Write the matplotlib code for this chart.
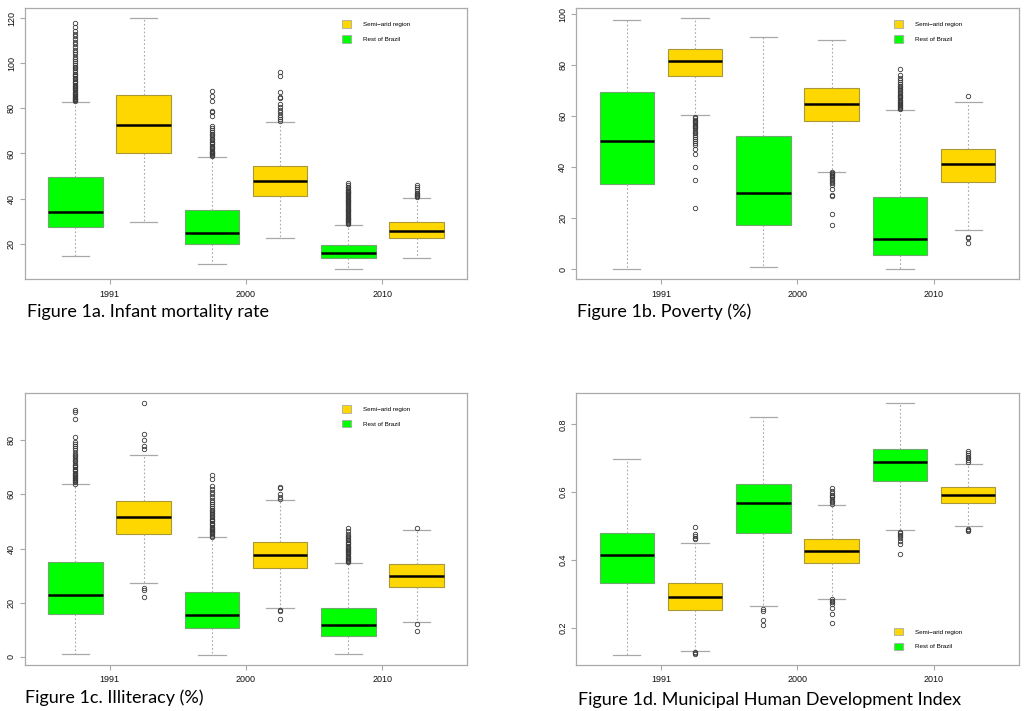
import matplotlib
matplotlib.use("Agg")
import matplotlib.pyplot as plt
from matplotlib.patches import Patch

# ---------------- data ----------------
years = ["1991", "2000", "2010"]
groups = ["Rest of Brazil", "Semi\u2212arid region"]  # box order per year: green, yellow
legend_labels = ["Semi\u2212arid region", "Rest of Brazil"]

# Panel a: Infant mortality rate  (order: green91, yellow91, green00, yellow00, green10, yellow10)
imr_whislo = [14.7, 29.7, 10.9, 22.7, 8.6, 13.5]
imr_q1 = [27.4, 60.4, 19.7, 41.2, 13.4, 22.5]
imr_med = [34.0, 72.7, 24.7, 47.9, 15.6, 25.5]
imr_q3 = [49.6, 85.9, 35.0, 54.5, 19.4, 29.4]
imr_whishi = [82.8, 120.0, 58.5, 73.8, 28.4, 40.1]
imr_fliers = [
    [83.2, 83.6, 84.0, 84.4, 84.8, 85.2, 85.6, 86.0, 86.5, 87.0, 87.5, 88.0, 88.5, 89.0,
     89.5, 90.0, 90.6, 91.2, 91.8, 92.4, 93.0, 93.6, 94.2, 94.8, 95.5, 96.2, 97.0, 97.8,
     98.6, 99.4, 100.3, 101.2, 102.0, 103.0, 104.0, 105.0, 106.0, 107.2, 108.5, 109.6,
     110.8, 112.0, 113.0, 114.5, 116.0, 117.8],
    [],
    [58.8, 59.2, 59.6, 60.0, 60.4, 60.8, 61.3, 61.8, 62.3, 62.8, 63.4, 64.0, 64.6, 65.2,
     65.9, 66.6, 67.3, 68.0, 68.8, 69.6, 70.5, 71.4, 72.4, 76.5, 78.6, 79.0, 83.3, 85.5, 87.6],
    [74.5, 75.2, 76.0, 77.0, 78.2, 79.5, 80.5, 82.0, 84.5, 85.2, 87.5, 94.3, 96.3],
    [28.7, 29.1, 29.5, 29.9, 30.3, 30.7, 31.1, 31.5, 31.9, 32.3, 32.7, 33.1, 33.5, 33.9,
     34.3, 34.7, 35.1, 35.5, 35.9, 36.3, 36.7, 37.1, 37.5, 37.9, 38.3, 38.7, 39.1, 39.5,
     39.9, 40.3, 40.7, 41.1, 41.5, 41.9, 42.3, 42.7, 43.1, 43.5, 44.0, 44.5, 45.2, 46.0, 47.0],
    [40.5, 41.0, 41.5, 42.0, 42.6, 43.3, 44.2, 45.0, 46.0],
]
imr_yticks = [20, 40, 60, 80, 100, 120]

# Panel b: Poverty (%)
pov_whislo = [0.0, 60.4, 0.8, 38.3, 0.0, 15.5]
pov_q1 = [33.6, 75.6, 17.5, 58.0, 5.7, 34.4]
pov_med = [50.2, 81.5, 30.0, 64.8, 12.0, 41.1]
pov_q3 = [69.5, 86.3, 52.3, 70.9, 28.4, 47.3]
pov_whishi = [97.8, 98.4, 90.9, 90.1, 62.5, 65.4]
pov_fliers = [
    [],
    [59.7, 59.2, 58.7, 58.2, 57.7, 57.2, 56.7, 56.2, 55.7, 55.2, 54.6, 54.0, 53.4, 52.8,
     52.0, 51.2, 50.4, 49.5, 48.6, 47.0, 45.2, 40.0, 35.2, 24.0],
    [],
    [38.0, 37.6, 37.2, 36.8, 36.4, 36.0, 35.5, 35.0, 34.4, 33.8, 33.0, 31.5, 29.2, 28.6,
     21.6, 17.3],
    [62.8, 63.2, 63.6, 64.0, 64.4, 64.8, 65.2, 65.6, 66.0, 66.5, 67.0, 67.5, 68.0, 68.5,
     69.0, 69.6, 70.2, 70.8, 71.4, 72.0, 72.7, 73.4, 74.2, 75.0, 76.0, 78.5],
    [67.9, 12.8, 12.1, 10.2],
]
pov_yticks = [0, 20, 40, 60, 80, 100]

# Panel c: Illiteracy (%)
ill_whislo = [1.2, 27.3, 0.7, 18.2, 1.0, 12.8]
ill_q1 = [15.7, 45.3, 10.6, 32.7, 7.6, 25.7]
ill_med = [22.7, 51.6, 15.5, 37.5, 11.6, 29.9]
ill_q3 = [34.9, 57.5, 24.0, 42.5, 18.2, 34.3]
ill_whishi = [63.7, 74.7, 44.1, 57.8, 34.7, 46.9]
ill_fliers = [
    [64.0, 64.4, 64.8, 65.2, 65.6, 66.0, 66.4, 66.8, 67.2, 67.6, 68.0, 68.5, 69.0, 69.5,
     70.0, 70.5, 71.0, 71.6, 72.2, 72.8, 73.4, 74.0, 74.7, 75.4, 76.2, 77.0, 77.8, 78.6,
     79.4, 81.0, 87.8, 90.3, 91.0],
    [76.6, 77.8, 79.9, 82.4, 93.6, 25.6, 24.8, 22.2],
    [44.4, 44.8, 45.2, 45.6, 46.0, 46.4, 46.8, 47.2, 47.6, 48.0, 48.5, 49.0, 49.5, 50.0,
     50.5, 51.0, 51.5, 52.0, 52.6, 53.2, 53.8, 54.4, 55.0, 55.7, 56.4, 57.2, 58.0, 59.0,
     60.0, 61.0, 62.0, 63.0, 65.6, 67.0],
    [58.3, 59.0, 60.0, 62.3, 62.8, 17.4, 16.8, 13.8],
    [35.0, 35.4, 35.8, 36.2, 36.6, 37.0, 37.4, 37.8, 38.2, 38.6, 39.0, 39.4, 39.8, 40.2,
     40.6, 41.0, 41.5, 42.0, 42.5, 43.0, 43.6, 44.2, 44.8, 45.5, 46.5, 47.6],
    [47.4, 12.3, 9.5],
]
ill_yticks = [0, 20, 40, 60, 80]

# Panel d: Municipal Human Development Index
hdi_whislo = [0.119, 0.132, 0.263, 0.284, 0.488, 0.499]
hdi_q1 = [0.332, 0.251, 0.480, 0.390, 0.632, 0.567]
hdi_med = [0.414, 0.290, 0.567, 0.425, 0.689, 0.591]
hdi_q3 = [0.479, 0.330, 0.624, 0.460, 0.727, 0.614]
hdi_whishi = [0.698, 0.449, 0.821, 0.561, 0.862, 0.683]
hdi_fliers = [
    [],
    [0.498, 0.475, 0.470, 0.465, 0.460, 0.128, 0.124, 0.121],
    [0.255, 0.248, 0.222, 0.208],
    [0.566, 0.570, 0.575, 0.580, 0.584, 0.588, 0.592, 0.597, 0.603, 0.612,
     0.283, 0.279, 0.275, 0.270, 0.257, 0.240, 0.214],
    [0.482, 0.478, 0.474, 0.470, 0.465, 0.455, 0.448, 0.417],
    [0.690, 0.695, 0.700, 0.705, 0.710, 0.715, 0.720, 0.492, 0.487, 0.484],
]
hdi_yticks = [0.2, 0.4, 0.6, 0.8]

captions = [
    "Figure 1a. Infant mortality rate",
    "Figure 1b. Poverty (%)",
    "Figure 1c. Illiteracy (%)",
    "Figure 1d. Municipal Human Development Index",
]

# ---------------- style ----------------
GREEN = "#00FF00"
YELLOW = "#FFD700"
GRAY = "#a8a8a8"
TICKFONT = "Liberation Sans"

fig = plt.figure(figsize=(10.24, 7.11), dpi=100)

panels = [
    dict(rect=[25 / 1024, 1 - 279.3 / 711, 442 / 1024, 271 / 711],
         s=(imr_whislo, imr_q1, imr_med, imr_q3, imr_whishi, imr_fliers),
         yticks=imr_yticks, leg=(0.717, 0.955), cap=(26.7, 317)),
    dict(rect=[576.3 / 1024, 1 - 279.3 / 711, 442.4 / 1024, 271 / 711],
         s=(pov_whislo, pov_q1, pov_med, pov_q3, pov_whishi, pov_fliers),
         yticks=pov_yticks, leg=(0.717, 0.955), cap=(577, 317)),
    dict(rect=[25 / 1024, 1 - 665 / 711, 442 / 1024, 271.7 / 711],
         s=(ill_whislo, ill_q1, ill_med, ill_q3, ill_whishi, ill_fliers),
         yticks=ill_yticks, leg=(0.717, 0.957), cap=(25, 702.7)),
    dict(rect=[576.3 / 1024, 1 - 665 / 711, 442.4 / 1024, 271.7 / 711],
         s=(hdi_whislo, hdi_q1, hdi_med, hdi_q3, hdi_whishi, hdi_fliers),
         yticks=hdi_yticks, leg=(0.717, 0.137), cap=(577.7, 705)),
]

positions = [1, 2, 3, 4, 5, 6]
colors = [GREEN, YELLOW] * 3

for i, p in enumerate(panels):
    ax = fig.add_axes(p["rect"])
    wlo, q1, med, q3, whi, fl = p["s"]
    stats = []
    for k in range(6):
        stats.append(dict(whislo=wlo[k], q1=q1[k], med=med[k], q3=q3[k],
                          whishi=whi[k], fliers=fl[k]))
    bp = ax.bxp(stats, positions=positions, widths=0.8, patch_artist=True,
                showfliers=True,
                boxprops=dict(edgecolor="#8a8a8a", linewidth=0.8),
                medianprops=dict(color="black", linewidth=1.8, solid_capstyle="butt"),
                whiskerprops=dict(color=GRAY, linewidth=0.8, linestyle=(0, (1.5, 2))),
                capprops=dict(color=GRAY, linewidth=0.9),
                capwidths=0.4,
                flierprops=dict(marker="o", markersize=3.2, markerfacecolor="none",
                                markeredgecolor="#3a3a3a", markeredgewidth=0.6,
                                linestyle="none"))
    for patch, c in zip(bp["boxes"], colors):
        patch.set_facecolor(c)
        patch.set_edgecolor("#a8983a" if c == YELLOW else "#70a870")

    # R-like 4% axis extension
    all_vals = wlo + whi + [v for f in fl for v in f]
    lo, hi = min(all_vals), max(all_vals)
    r = hi - lo
    ax.set_ylim(lo - 0.04 * r, hi + 0.04 * r)
    ax.set_xlim(0.5 - 0.24, 6.5 + 0.24)

    ax.set_xticks([1.5, 3.5, 5.5])
    ax.set_xticklabels(years, fontsize=6.5, family=TICKFONT)
    ax.set_yticks(p["yticks"])
    ax.set_yticklabels([("%g" % v) for v in p["yticks"]], fontsize=6.5,
                       family=TICKFONT, rotation=90, va="center")
    ax.tick_params(axis="x", length=3.5, width=0.8, color=GRAY, pad=4, labelcolor="#111111")
    ax.tick_params(axis="y", length=3.5, width=0.8, color=GRAY, pad=3, labelcolor="#111111")
    for sp in ax.spines.values():
        sp.set_color("#aaaaaa")
        sp.set_linewidth(0.9)

    handles = [Patch(facecolor=YELLOW, edgecolor="#aaaaaa", linewidth=0.6),
               Patch(facecolor=GREEN, edgecolor="#aaaaaa", linewidth=0.6)]
    ax.legend(handles, legend_labels, loc="upper left", bbox_to_anchor=p["leg"],
              frameon=False, prop=dict(family=TICKFONT, size=4.5),
              handlelength=1.5, handleheight=1.5, handletextpad=1.9,
              labelspacing=1.14, borderpad=0, borderaxespad=0)

    cx, cy = p["cap"]
    fig.text(cx / 1024, 1 - cy / 711, captions[i], fontsize=13, family="Lato",
             ha="left", va="baseline", color="black")

fig.savefig("out.png", dpi=100)
